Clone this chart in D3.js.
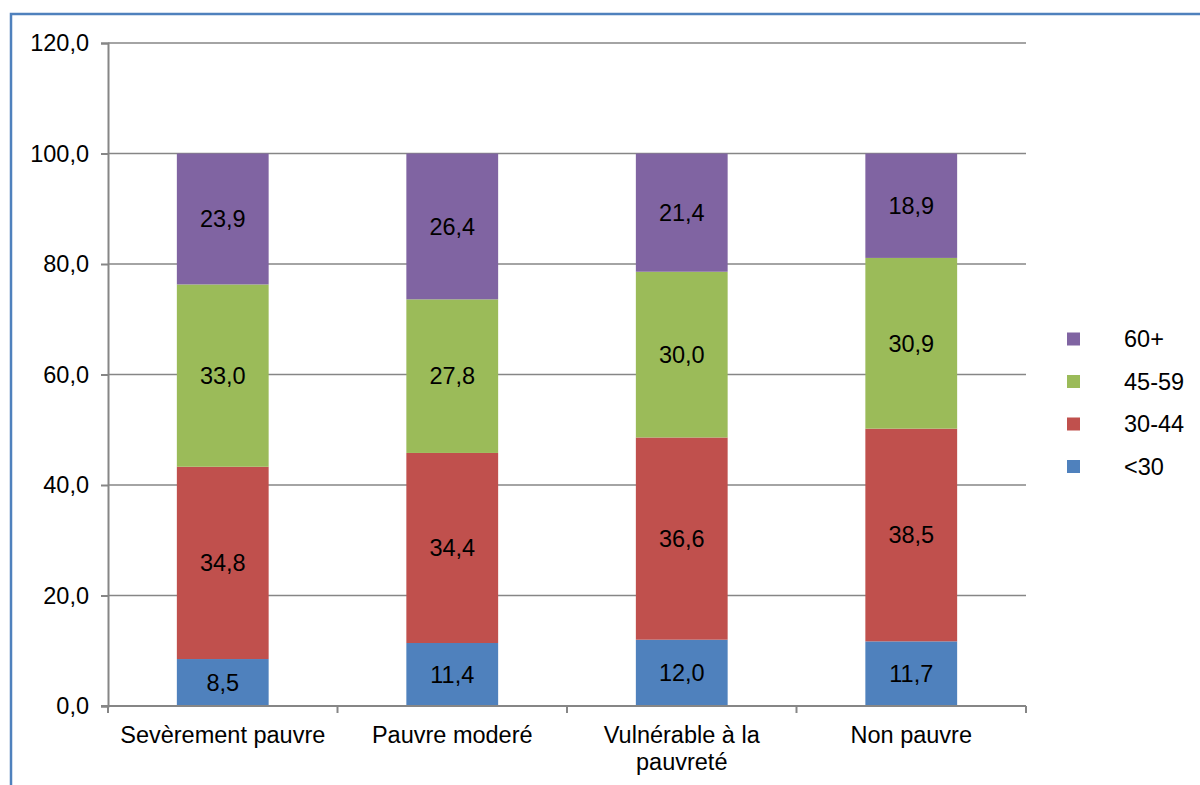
<!DOCTYPE html>
<html>
<head>
<meta charset="utf-8">
<script src="https://cdn.jsdelivr.net/npm/d3@7"></script>
<style>
body{margin:0;background:#fff;}
text{font-family:"Liberation Sans",Arial,sans-serif;fill:#000;}
</style>
</head>
<body>
<script>
// chart data
var categories = ["Sevèrement pauvre","Pauvre moderé","Vulnérable à la pauvreté","Non pauvre"];
var under30 = [8.5,11.4,12.0,11.7];
var age30_44 = [34.8,34.4,36.6,38.5];
var age45_59 = [33.0,27.8,30.0,30.9];
var age60plus = [23.9,26.4,21.4,18.9];
var seriesNames = ["<30","30-44","45-59","60+"];
var yTicks = [0,20,40,60,80,100,120];

const svg_width = 1200, svg_height = 785;
var colors = ["#4F81BD","#C0504D","#9BBB59","#8064A2"];
var seriesValues = [under30,age30_44,age45_59,age60plus];
var fontSize = "23.5px";

var svg = d3.select("body").append("svg")
.attr("width",svg_width)
.attr("height",svg_height);

// outer frame
svg.append("rect")
.attr("x",11).attr("y",14)
.attr("width",1300).attr("height",900)
.attr("fill","none")
.attr("stroke","#4F81BD")
.attr("stroke-width",2.5);

var plotLeft = 108, plotRight = 1026, plotTop = 43, plotBottom = 706;
var x = d3.scaleBand().domain(categories).range([plotLeft,plotRight]).paddingInner(0.6).paddingOuter(0.3);
var xOuter = d3.scaleBand().domain(categories).range([plotLeft,plotRight]);
var y = d3.scaleLinear().domain([0,120]).range([plotBottom,plotTop]);

// gridlines
svg.append("g").selectAll("line")
.data(yTicks.filter(function(d){return d>0}))
.enter().append("line")
.attr("x1",plotLeft).attr("x2",plotRight)
.attr("y1",function(d){return y(d)}).attr("y2",function(d){return y(d)})
.attr("stroke","#868686").attr("stroke-width",1.5);

// stacked bars
var table = categories.map(function(c,i){
	var row = {cat:c};
	seriesNames.forEach(function(s,j){row[s] = seriesValues[j][i];});
	return row;
});
var stacked = d3.stack().keys(seriesNames)(table);

stacked.forEach(function(layer,j){
	var g = svg.append("g");
	g.selectAll("rect").data(layer).enter().append("rect")
	.attr("x",function(d){return x(d.data.cat)})
	.attr("y",function(d){return y(Math.min(d[1],100))})
	.attr("width",x.bandwidth())
	.attr("height",function(d){return y(d[0]) - y(Math.min(d[1],100))})
	.attr("fill",colors[j]);
	g.selectAll("text").data(layer).enter().append("text")
	.attr("x",function(d){return x(d.data.cat)+x.bandwidth()/2})
	.attr("y",function(d){return y((d[0]+Math.min(d[1],100))/2)})
	.attr("dy","0.35em")
	.attr("text-anchor","middle")
	.style("font-size",fontSize)
	.text(function(d){return d3.format(".1f")(d[1]-d[0]).replace(".",",")});
});

// y axis
var yAxis = d3.axisLeft(y).tickValues(yTicks).tickSize(7).tickPadding(12)
.tickFormat(function(d){return d3.format(".1f")(d).replace(".",",")});
var yg = svg.append("g").attr("transform","translate("+plotLeft+",0)").call(yAxis);
yg.select(".domain").attr("stroke","#868686").attr("stroke-width",2);
yg.selectAll(".tick line").attr("stroke","#868686").attr("stroke-width",2);
yg.selectAll(".tick text").style("font-size",fontSize).attr("fill","#000");

// x axis
var xg = svg.append("g");
xg.append("line").attr("x1",plotLeft-7).attr("x2",plotRight).attr("y1",plotBottom).attr("y2",plotBottom)
.attr("stroke","#868686").attr("stroke-width",2);
xg.selectAll("line.tk").data(d3.range(categories.length+1)).enter().append("line")
.attr("class","tk")
.attr("x1",function(d){return plotLeft + d*xOuter.step()}).attr("x2",function(d){return plotLeft + d*xOuter.step()})
.attr("y1",plotBottom).attr("y2",plotBottom+7)
.attr("stroke","#868686").attr("stroke-width",2);
var xLabelLines = [["Sevèrement pauvre"],["Pauvre moderé"],["Vulnérable à la","pauvreté"],["Non pauvre"]];
categories.forEach(function(c,i){
	var t = xg.append("text")
	.attr("y",plotBottom+29)
	.attr("text-anchor","middle")
	.style("font-size",fontSize);
	xLabelLines[i].forEach(function(line,k){
		t.append("tspan").attr("x",x(c)+x.bandwidth()/2).attr("dy",k==0?"0.35em":"1.15em").text(line);
	});
});

// legend
var legend = svg.append("g");
var legendOrder = [3,2,1,0];
legendOrder.forEach(function(j,k){
	var ly = 339 + k*42.5;
	legend.append("rect").attr("x",1067).attr("y",ly-6.5).attr("width",13).attr("height",13).attr("fill",colors[j]);
	legend.append("text").attr("x",1124).attr("y",ly).attr("dy","0.35em").style("font-size",fontSize).text(seriesNames[j]);
});
</script>
</body>
</html>
